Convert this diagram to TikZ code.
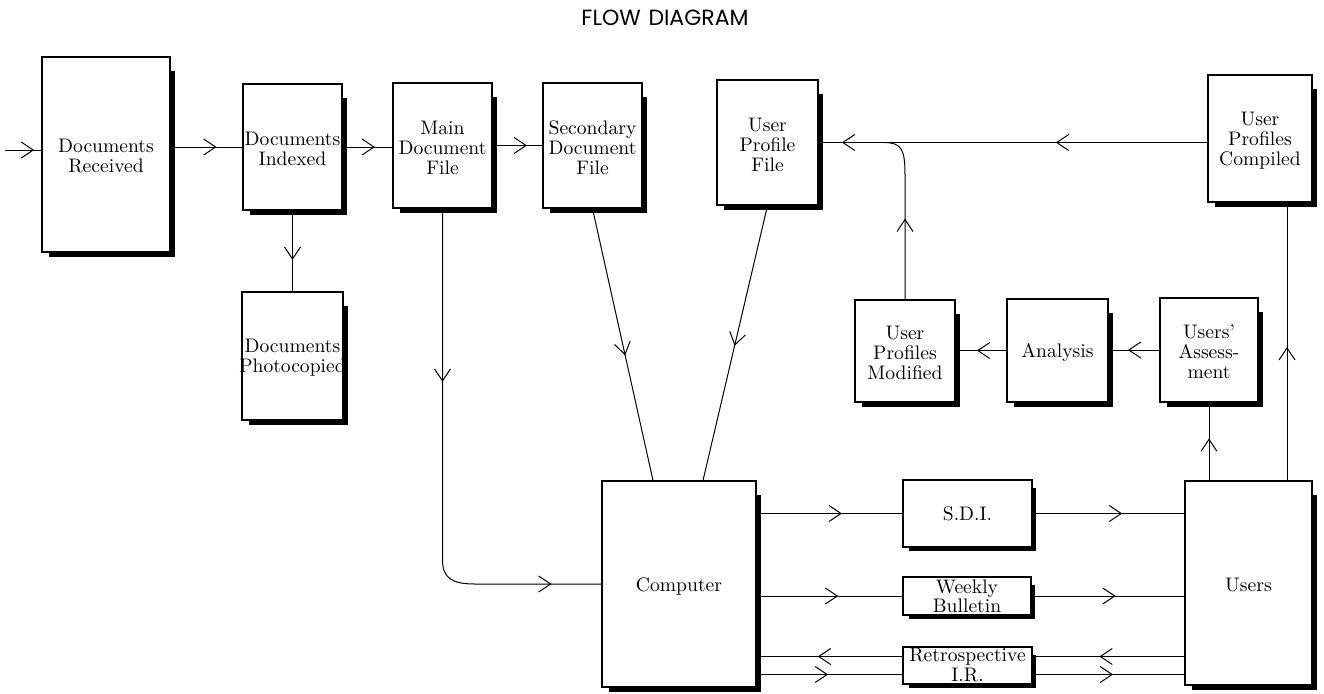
\documentclass[tikz,border=0pt]{standalone}
\usepackage{fontspec}
\newfontfamily\titlefont{Poppins}
\usetikzlibrary{arrows.meta,decorations.markings,calc}
\tikzset{
  fbox/.style={draw, fill=white, line width=0.6pt, inner sep=0pt, rectangle},
  ftext/.style={align=center, font=\fontsize{9.8}{10}\selectfont, inner sep=0pt},
  conn/.style={line width=0.5pt},
  arr/.style={conn, postaction={decorate}, decoration={markings,
      mark=at position #1 with {\arrow{Straight Barb[length=6pt,width=8pt]}}}},
  arrtwo/.style 2 args={conn, postaction={decorate}, decoration={markings,
      mark=at position #1 with {\arrow{Straight Barb[length=6pt,width=8pt]}},
      mark=at position #2 with {\arrow{Straight Barb[length=6pt,width=8pt]}}}},
}
\newcommand\flowbox[6]{%
  \fill[black] (#2+7,#3+14) rectangle (#4+5,#5+5);
  \pgfmathsetmacro\fbw{(#4-(#2))*0.5}%
  \pgfmathsetmacro\fbh{(#5-(#3))*0.5}%
  \node[fbox, minimum width=\fbw pt, minimum height=\fbh pt] (#1) at ({(#2+#4)/2},{(#3+#5)/2}) {};
  \node[ftext, yshift=-1pt] (#1-t) at (#1.center) {#6};
}
\newcommand\flowboxs[6]{%
  \fill[black] (#2+6,#3+8) rectangle (#4+4,#5+4);
  \pgfmathsetmacro\fbw{(#4-(#2))*0.5}%
  \pgfmathsetmacro\fbh{(#5-(#3))*0.5}%
  \node[fbox, minimum width=\fbw pt, minimum height=\fbh pt] (#1) at ({(#2+#4)/2},{(#3+#5)/2}) {};
  \node[ftext] (#1-t) at (#1.center) {#6};
}
\begin{document}
\begin{tikzpicture}[x=0.5pt,y=-0.5pt]
\useasboundingbox[fill=white] (0,0) rectangle (1324,693);

\node[font=\titlefont\fontsize{11}{12}\selectfont] (title) at (665,18) {FLOW\hspace{0.35em}DIAGRAM};

\flowbox{Received}{42}{57}{170}{252}{Documents\\Received}
\flowbox{Indexed}{243}{84}{342}{210}{Documents\\Indexed}
\flowbox{Photocopied}{242}{292}{343}{420}{Documents\\Photocopied}
\flowbox{Main}{393}{83}{492}{208}{Main\\Document\\File}
\flowbox{Secondary}{543}{83}{642}{208}{Secondary\\Document\\File}
\flowbox{UPF}{717}{80}{818}{205}{User\\Profile\\File}
\flowbox{Compiled}{1208}{75}{1312}{202}{User\\Profiles\\Compiled}
\flowbox{Modified}{855}{300}{955}{402}{User\\Profiles\\Modified}
\flowbox{Analysis}{1007}{299}{1108}{402}{Analysis}
\flowbox{Assessment}{1160}{298}{1258}{402}{Users'\\Assess-\\ment}
\flowbox{Computer}{602}{481}{756}{687}{Computer}
\flowbox{Users}{1185}{481}{1312}{685}{Users}
\flowboxs{SDI}{903}{480}{1032}{547}{S.D.I.}
\flowboxs{Weekly}{903}{577}{1031}{615}{Weekly\\[-0.5pt]Bulletin}
\flowboxs{Retro}{903}{647}{1032}{684}{Retrospective\\I.R.}

% top row
\coordinate (in) at (5,150);
\draw[arr=0.8] (in) -- (in -| Received.west);
\draw[arr=0.64] (Received.east |- Indexed.west) -- (Indexed.west);
\draw[arr=0.65] (Indexed.east) -- (Indexed.east -| Main.west);
\draw[arr=0.69] (Main.east) -- (Main.east -| Secondary.west);
\draw[arr=0.61] (Indexed.south) -- (Photocopied.north);

% to computer
\draw[arrtwo={0.33}{0.905}] (Main.south) -- (442.5,560)
   .. controls (442.5,578) and (452,584) .. (475,584) -- (Computer.west);
\draw[arr=0.54] (Secondary.south) -- ([xshift=-13pt]Computer.north);
\draw[arr=0.51] (UPF.south) -- ([xshift=12pt]Computer.north);

% feedback loop
\draw[arrtwo={0.39}{0.94}] (Compiled.west |- UPF.east) -- (UPF.east);
\coordinate (join) at (884,142.5);
\draw[arr=0.475] (Modified.north) -- (905,175)
   .. controls (905,150) and (902,142.5) .. (join);
\draw[arr=0.58] (Analysis.west) -- (Analysis.west -| Modified.east);
\draw[arr=0.62] (Assessment.west) -- (Assessment.west -| Analysis.east);
\draw[arr=0.54] (Assessment.south |- Users.north) -- (Assessment.south);
\coordinate (u1) at ([xshift=19.25pt]Users.north);
\draw[arr=0.48] (u1) -- (u1 |- Compiled.south);

% outputs
\draw[arr=0.585] (Computer.east |- SDI.west) -- (SDI.west);
\draw[arr=0.56] (Computer.east |- Weekly.west) -- (Weekly.west);
\coordinate (ru) at ([yshift=4.5pt]Retro.west);
\coordinate (rl) at ([yshift=-4.5pt]Retro.west);
\coordinate (rue) at ([yshift=4.5pt]Retro.east);
\coordinate (rle) at ([yshift=-4.5pt]Retro.east);
\draw[arr=0.58] (ru) -- (ru -| Computer.east);
\draw[arr=0.49] (rl -| Computer.east) -- (rl);
\draw[arr=0.59] (SDI.east) -- (SDI.east -| Users.west);
\draw[arr=0.55] (Weekly.east) -- (Weekly.east -| Users.west);
\draw[arr=0.56] (rue -| Users.west) -- (rue);
\draw[arr=0.53] (rle) -- (rle -| Users.west);
\end{tikzpicture}
\end{document}
